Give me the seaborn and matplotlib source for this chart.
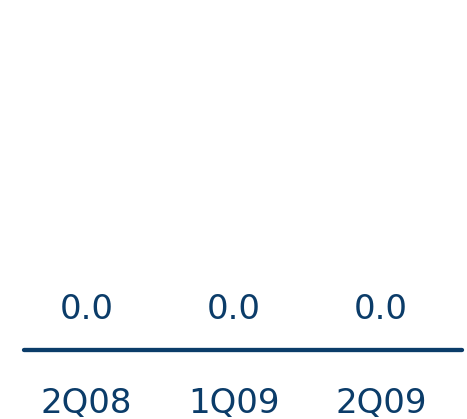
import matplotlib
matplotlib.use("Agg")
import matplotlib.pyplot as plt
import seaborn as sns
import pandas as pd

categories = ["2Q08", "1Q09", "2Q09"]
values = [0.0, 0.0, 0.0]
value_labels = ["0.0", "0.0", "0.0"]

navy = "#0b3c69"

sns.set_theme(style="white")
plt.rcParams['font.family'] = ['DejaVu Sans']

df = pd.DataFrame({"cat": categories, "val": values})

fig = plt.figure(figsize=(4.67, 4.19), dpi=100)
ax = fig.add_axes([0.0514, 0.1635, 0.938, 0.8365])
sns.barplot(data=df, x="cat", y="val", color=navy, ax=ax, width=0.6)

ax.set_ylim(0, 1)
ax.set_xlim(-0.426, 2.55)

for i, (v, lab) in enumerate(zip(values, value_labels)):
    ax.annotate(lab, (i, v), xytext=(0, 23), textcoords="offset points",
                ha="center", va="baseline", fontsize=24.5, color=navy)

for s in ["top", "right", "left"]:
    ax.spines[s].set_visible(False)
ax.spines["bottom"].set_color(navy)
ax.spines["bottom"].set_linewidth(3.1)
ax.spines["bottom"].set_capstyle("round")

ax.set_yticks([])
ax.tick_params(axis="x", length=0, pad=45, labelsize=24.5, labelcolor=navy)
for t in ax.get_xticklabels():
    t.set_va("baseline")
ax.set_xlabel("")
ax.set_ylabel("")

fig.savefig("out.png", dpi=100)
